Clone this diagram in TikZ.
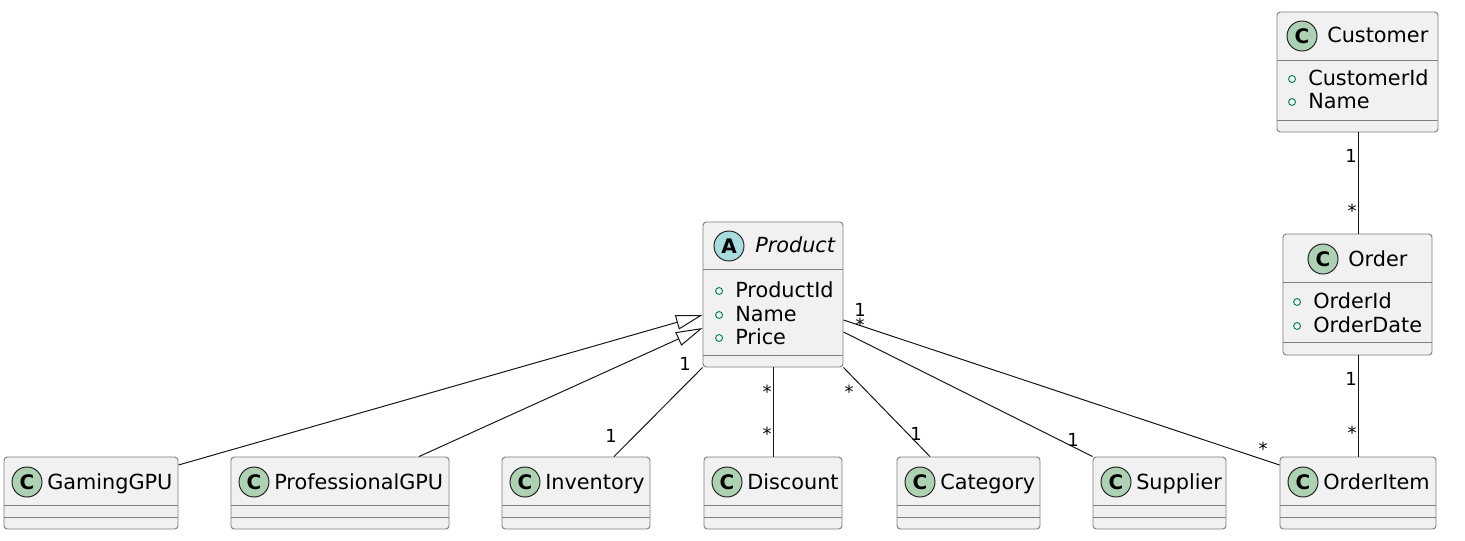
\documentclass[tikz,border=0pt]{standalone}
\usepackage{fontspec}
\setmainfont{DejaVu Sans}
\usetikzlibrary{positioning,fit,arrows.meta}
\definecolor{clsfill}{HTML}{F1F1F1}
\definecolor{clsline}{HTML}{7F7F7F}
\definecolor{edgeline}{HTML}{181818}
\definecolor{iconc}{HTML}{ADD1B2}
\definecolor{icona}{HTML}{A9DCDF}
\definecolor{visgreen}{HTML}{038048}
\tikzset{
cls/.style={rectangle,draw=clsline,fill=clsfill,rounded corners=2.5pt,line width=0.7pt,inner sep=0pt},
sep/.style={draw=clsline,line width=0.7pt},
icon/.style={circle,draw=edgeline,line width=0.7pt,minimum size=22.5pt,inner sep=0pt,
  font=\fontsize{15}{17}\selectfont\bfseries},
cname/.style={anchor=base west,inner sep=0pt,font=\fontsize{15.6}{18}\selectfont},
aname/.style={cname,font=\fontsize{15.6}{18}\selectfont\itshape},
vis/.style={circle,draw=visgreen,line width=0.7pt,minimum size=5.2pt,inner sep=0pt},
attr/.style={anchor=base west,inner sep=0pt,text height=11.25pt,text depth=2.25pt,
  font=\fontsize{15.6}{18}\selectfont,label={[vis,label distance=9pt]left:{}}},
el/.style={inner sep=0pt,font=\fontsize{13.5}{16}\selectfont},
assoc/.style={draw=edgeline,line width=0.75pt},
ext/.style={assoc,-{Triangle[open,length=20pt,width=11pt]}},
}
\begin{document}
\begin{tikzpicture}[x=0.75pt,y=-0.75pt]
\useasboundingbox[fill=white] (0,0) rectangle (1465,540);

% Product
\node[cls,fit={(703,222) (843,367)}] (product) {};
\draw[sep] (product.west |- 0,269) -- (product.east |- 0,269);
\draw[sep] (product.west |- 0,355) -- (product.east |- 0,355);
\node[icon,fill=icona] (product-i) at (729,246) {A};
\node[aname] (product-n) at (755,252) {Product};
\node[attr] (product-a1) at (735,297) {ProductId};
\node[attr] (product-a2) at (735,321) {Name};
\node[attr] (product-a3) at (735,344) {Price};

% Customer
\node[cls,fit={(1277,12) (1438,132)}] (customer) {};
\draw[sep] (customer.west |- 0,60) -- (customer.east |- 0,60);
\draw[sep] (customer.west |- 0,120) -- (customer.east |- 0,120);
\node[icon,fill=iconc] (customer-i) at (1302,36) {C};
\node[cname] (customer-n) at (1327,42) {Customer};
\node[attr] (customer-a1) at (1308,85) {CustomerId};
\node[attr] (customer-a2) at (1308,108) {Name};

% Order
\node[cls,fit={(1283,234) (1432,355)}] (order) {};
\draw[sep] (order.west |- 0,282) -- (order.east |- 0,282);
\draw[sep] (order.west |- 0,342) -- (order.east |- 0,342);
\node[icon,fill=iconc] (order-i) at (1323,259) {C};
\node[cname] (order-n) at (1348,266) {Order};
\node[attr] (order-a1) at (1313,308) {OrderId};
\node[attr] (order-a2) at (1313,332) {OrderDate};

% bottom row
\foreach \id/\l/\r/\txt in {gaming/4/178/GamingGPU,prof/231/449/ProfessionalGPU,
  inventory/502/650/Inventory,discount/704/842/Discount,category/897/1040/Category,
  supplier/1093/1226/Supplier,orderitem/1280/1436/OrderItem}{
  \node[cls,fit={(\l,457) (\r,529)}] (\id) {};
  \draw[sep] (\id.west |- 0,505) -- (\id.east |- 0,505);
  \draw[sep] (\id.west |- 0,517) -- (\id.east |- 0,517);
  \node[icon,fill=iconc] (\id-i) at (\l+23,482) {C};
  \node[cname] (\id-n) at (\l+43,489) {\txt};
}

\path
(gaming.east |- 0,465) edge[ext] (product.west |- 0,315)
(prof.north -| 419,0) edge[ext] (product.west |- 0,328)
(product.south west) edge[assoc] (inventory.north -| 614,0)
(product.south) edge[assoc] (discount.north)
(product.south east) edge[assoc] (category.north -| 930,0)
(product.east |- 0,332) edge[assoc] (supplier.north west)
(product.east |- 0,320) edge[assoc] (orderitem.west |- 0,465)
(customer.south -| 1358,0) edge[assoc] (order.north -| 1358,0)
(order.south -| 1358,0) edge[assoc] (orderitem.north -| 1358,0)
;

% multiplicities
\node[el] (m-inv1) at (685,364) {1};
\node[el] (m-inv2) at (611,436) {1};
\node[el] (m-dis1) at (767,392) {*};
\node[el] (m-dis2) at (767,434) {*};
\node[el] (m-cat1) at (849,392) {*};
\node[el] (m-cat2) at (916,434) {1};
\node[el] (m-sup) at (1073,440) {1};
\node[el] (m-oi1) at (860,310) {1};
\node[el] (m-oi2) at (860,325) {*};
\node[el] (m-oi3) at (1263,449) {*};
\node[el] (m-cus1) at (1351,156) {1};
\node[el] (m-cus2) at (1352,211) {*};
\node[el] (m-ord1) at (1351,379) {1};
\node[el] (m-ord2) at (1352,433) {*};
\end{tikzpicture}
\end{document}
